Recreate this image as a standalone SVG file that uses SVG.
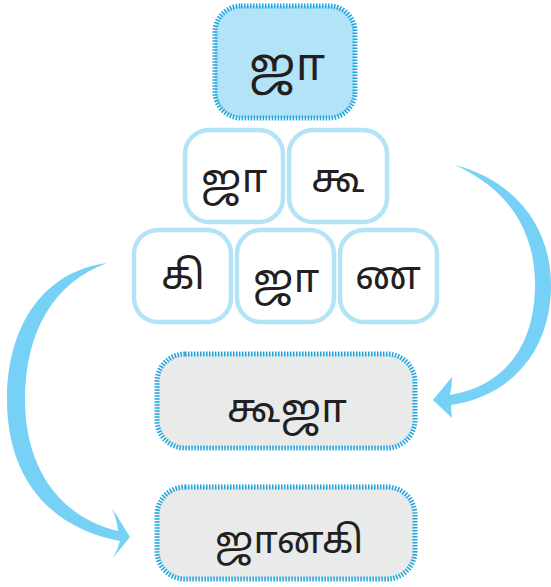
<svg xmlns="http://www.w3.org/2000/svg" width="551" height="587" viewBox="0 0 551 587">
<style>
.t{font-family:"Noto Sans Tamil","Lohit Tamil","Latha","Noto Sans","DejaVu Sans",sans-serif;font-size:40px;fill:#231f20;text-anchor:middle}
.tile{fill:#ffffff;stroke:#b3e3f7;stroke-width:4.5}
.dash{stroke:#1ea5e0;stroke-width:5;stroke-dasharray:1.5 1.5}
.arrow{fill:#77d0f6}
</style>
<rect width="551" height="587" fill="#ffffff"/>
<g id="connectors">
<path class="arrow" d="M107,263 C40,272 7,330 7,400 C7,478 50,528 120,541 Q118,549 113,558 L130,537 L112,508 Q117,520 118,531 C62,518 25,470 25,400 C25,330 55,282 107,263 Z"/>
<path class="arrow" d="M455,165 C520,182 551,232 551,285 C551,350 512,396 451,405 Q451,411 452,418 L433,400 L452,377 Q452,387 450,395 C505,386 535,345 535,285 C535,228 506,188 455,165 Z"/>
</g>
<g id="top">
<rect x="215" y="6" width="140" height="112" rx="26" fill="#b3e3f7" class="dash"/>
<text class="t" x="287" y="80" style="font-size:46px">ஜா</text>
</g>
<g id="r1a"><rect class="tile" x="185" y="130" width="98" height="92" rx="24"/><text class="t" x="234" y="192">ஜா</text></g>
<g id="r1b"><rect class="tile" x="289" y="130" width="98" height="92" rx="24"/><text class="t" x="338" y="192">கூ</text></g>
<g id="r2a"><rect class="tile" x="134" y="230" width="97" height="92" rx="24"/><text class="t" x="183" y="289">கி</text></g>
<g id="r2b"><rect class="tile" x="237" y="230" width="97" height="92" rx="24"/><text class="t" x="286" y="292">ஜா</text></g>
<g id="r2c"><rect class="tile" x="340" y="230" width="97" height="92" rx="24"/><text class="t" x="388" y="289">ண</text></g>
<g id="kooja">
<rect x="157" y="354" width="258" height="94" rx="28" fill="#e9eaea" class="dash"/>
<text class="t" x="287" y="422">கூஜா</text>
</g>
<g id="janaki">
<rect x="157" y="487" width="258" height="92" rx="28" fill="#e9eaea" class="dash"/>
<text class="t" x="289" y="553" style="font-size:38px">ஜானகி</text>
</g>
</svg>
